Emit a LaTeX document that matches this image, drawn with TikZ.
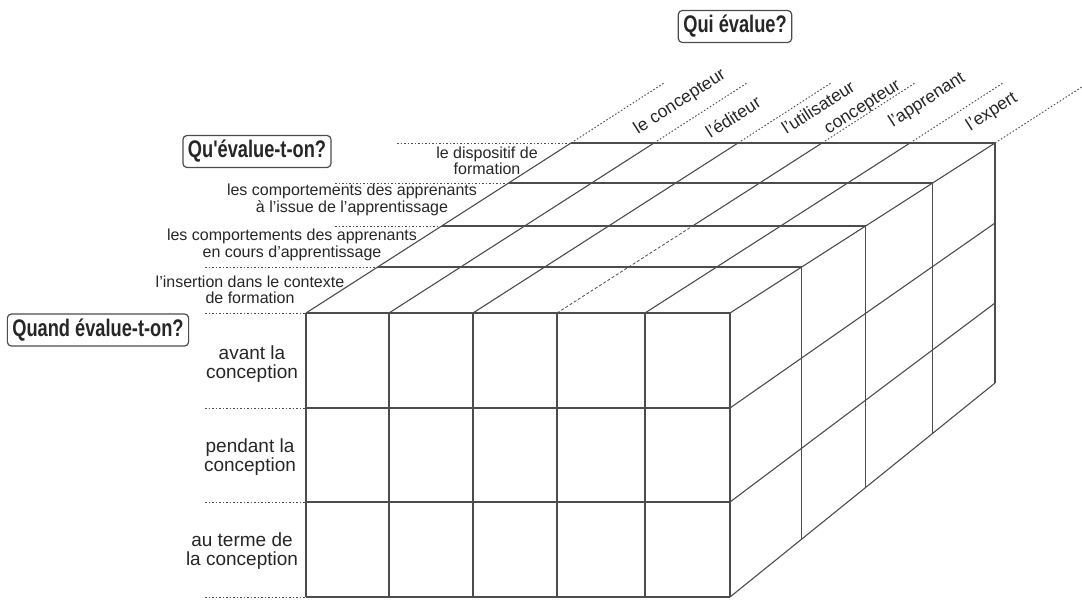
\documentclass[tikz,border=0pt]{standalone}
\usepackage{fontspec}
\setmainfont{Liberation Sans}
\newfontfamily\etroite[FakeStretch=0.76]{Liberation Sans}
\definecolor{plomb}{gray}{0.3}
\definecolor{encre}{gray}{0.15}

\begin{document}
\begin{tikzpicture}[x=1pt,y=-1pt,
	arete/.style={draw=plomb, line width=1.1pt},
	tiret/.style={draw=plomb, line width=0.8pt, dash pattern=on 3pt off 2pt},
	pointille/.style={draw=plomb, line width=0.9pt, dash pattern=on 1.6pt off 1.9pt},
	cadre/.style={draw=plomb, line width=1.2pt, rounded corners=4pt, inner xsep=5pt,
		minimum height=32pt, text=encre, font=\etroite\bfseries\fontsize{24}{26}\selectfont},
	quilabel/.style={text=encre, rotate=32.7, font=\fontsize{17.5}{19}\selectfont},
	quoilabel/.style={text=encre, align=center, font=\fontsize{16}{16.5}\selectfont},
	quandlabel/.style={text=encre, align=center, font=\fontsize{19}{18.5}\selectfont}]
	
	\useasboundingbox (0,0) rectangle (1082,603);
	
	% Face avant : 5 colonnes, 3 rangees
	\foreach \x in {306,389,473,557,645,730} \draw[arete] (\x,313) -- (\x,597);
	\foreach \y in {313,408,502,597} \draw[arete] (306,\y) -- (730,\y);
	
	% Dessus : les quatre tranches en profondeur
	\foreach \y in {267,226,183,143} \draw[arete] ({306+(313-\y)*1.5588},\y) -- ({730+(313-\y)*1.5588},\y);
	\foreach \x in {306,389,473,645,730} \draw[arete] (\x,313) -- (\x+265,143);
	\draw[tiret] (557,313) -- (692.6,226);
	\draw[arete] (692.6,226) -- (822,143);
	
	% Face de droite
	\foreach \y in {267,226,183,143} \draw[arete] ({730+(313-\y)*1.5588},\y) -- ({730+(313-\y)*1.5588},{597-(313-\y)*1.2588});
	\draw[arete] (730,408) -- (995,223);
	\draw[arete] (730,502) -- (995,303);
	\draw[arete] (730,597) -- (995,383);
	
	% Pointilles vers les etiquettes
	\foreach \x in {306,389,473,557,645,730} \draw[pointille] (\x+265,143) -- (\x+358,83);
	\draw[pointille] (397,143) -- (572,143);
	\draw[pointille] (335,183) -- (508.6,183);
	\draw[pointille] (335,226) -- (441.6,226);
	\draw[pointille] (205,267) -- (377.7,267);
	\foreach \y in {313,408,502,597} \draw[pointille] (205,\y) -- (306,\y);
	
	% Questions
	\node[cadre] (qui) at (735,26.5) {Qui évalue?};
	\node[cadre] (quoi) at (257,151.5) {Qu'évalue-t-on?};
	\node[cadre] (quand) at (98,330) {Quand évalue-t-on?};
	
	% Qui evalue ?
	\node[quilabel] (concepteur) at (680,102) {le concepteur};
	\node[quilabel] (editeur) at (733,117) {l'éditeur};
	\node[quilabel] (utilisateur) at (818,107) {l'utilisateur};
	\node[quilabel] (utilconcepteur) at (863,108) {concepteur};
	\node[quilabel] (apprenant) at (927,100) {l'apprenant};
	\node[quilabel] (expert) at (992,112) {l'expert};
	
	% Qu'evalue-t-on ?
	\node[quoilabel] (dispositif) at (487,161) {le dispositif de\\formation};
	\node[quoilabel] (issue) at (352,200) {les comportements des apprenants\\à l'issue de l'apprentissage};
	\node[quoilabel] (cours) at (292,245) {les comportements des apprenants\\en cours d'apprentissage};
	\node[quoilabel] (insertion) at (250,290) {l'insertion dans le contexte\\de formation};
	
	% Quand evalue-t-on ?
	\node[quandlabel] (avant) at (252,364) {avant la\\conception};
	\node[quandlabel] (pendant) at (250,457) {pendant la\\conception};
	\node[quandlabel] (terme) at (242,551) {au terme de\\la conception};
	
\end{tikzpicture}
\end{document}
